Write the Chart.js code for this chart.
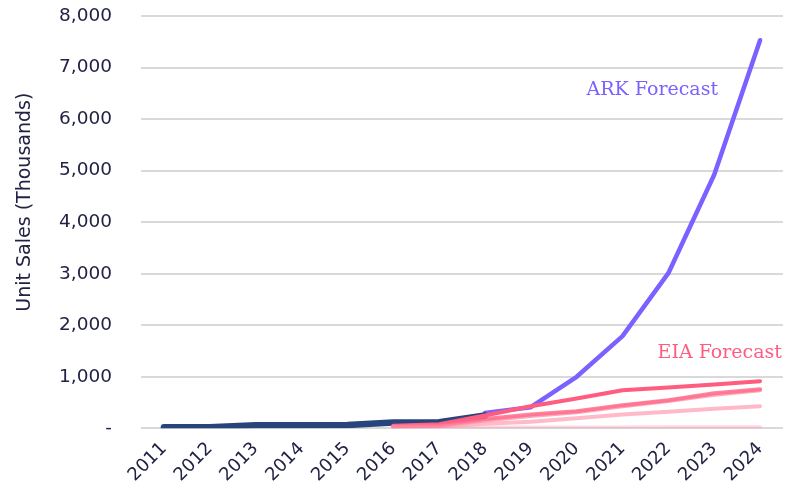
<!DOCTYPE html>
<html>
<head>
<meta charset="utf-8">
<script src="https://cdn.jsdelivr.net/npm/chart.js@4/dist/chart.umd.min.js"></script>
<style>
  html, body { margin: 0; padding: 0; background: #fff; }
  #wrap { width: 802px; height: 493px; }
</style>
</head>
<body>
<div id="wrap"><canvas id="salesChart"></canvas></div>
<script>
'use strict';

// ---- data ----
var years = ['2011', '2012', '2013', '2014', '2015', '2016', '2017',
             '2018', '2019', '2020', '2021', '2022', '2023', '2024'];
var historical = [20, 20, 60, 62, 64, 115, 118, 250, null, null, null, null, null, null];
var arkForecast = [null, null, null, null, null, null, null, 300, 410, 1000, 1790, 3010, 4920, 7530];
var eiaHigh = [null, null, null, null, null, 50, 80, 250, 430, 580, 740, 790, 850, 915];
var eiaMid = [null, null, null, null, null, 40, 60, 180, 270, 330, 450, 545, 680, 760];
var eiaMid2 = [null, null, null, null, null, 35, 50, 150, 240, 310, 430, 530, 650, 740];
var eiaLow = [null, null, null, null, null, 25, 35, 90, 130, 195, 270, 320, 380, 430];
var eiaFlat = [null, null, null, null, null, 10, 12, 15, 16, 17, 18, 19, 20, 20];
var yTicks = [0, 1000, 2000, 3000, 4000, 5000, 6000, 7000, 8000];

var textColor = '#222244';

// forecast labels + y axis title
var annotations = {
    id: 'annotations',
    afterDatasetsDraw: function (chart) {
        var ctx = chart.ctx;
        var x = chart.scales.x, y = chart.scales.y;
        ctx.save();
        ctx.font = '19px "DejaVu Serif"';
        ctx.textBaseline = 'middle';
        ctx.textAlign = 'center';
        ctx.fillStyle = '#7b61ff';
        ctx.fillText('ARK Forecast', x.getPixelForValue(10.65), y.getPixelForValue(6560));
        ctx.fillStyle = '#ff5c80';
        ctx.fillText('EIA Forecast', x.getPixelForValue(12.12), y.getPixelForValue(1460));

        ctx.translate(25, (chart.chartArea.top + chart.chartArea.bottom) / 2 - 20);
        ctx.rotate(-Math.PI / 2);
        ctx.font = '19px "DejaVu Sans"';
        ctx.fillStyle = textColor;
        ctx.fillText('Unit Sales (Thousands)', 0, 0);
        ctx.restore();
    }
};

function line(data, color, width) {
    return {
        data: data,
        borderColor: color,
        backgroundColor: color,
        borderWidth: width,
        pointRadius: 0,
        tension: 0,
        fill: false,
        borderCapStyle: 'round',
        borderJoinStyle: 'round'
    };
}

var salesChart = new Chart(document.getElementById('salesChart'), {
    type: 'line',
    data: {
        labels: years,
        datasets: [
            line(eiaFlat, 'rgba(255, 140, 165, 0.35)', 4),
            line(eiaLow, 'rgba(255, 140, 165, 0.6)', 4),
            line(eiaMid2, 'rgba(255, 110, 140, 0.6)', 4),
            line(eiaMid, 'rgba(255, 100, 135, 0.8)', 4),
            line(eiaHigh, '#ff5c80', 4),
            line(historical, '#27457a', 6.5),
            line(arkForecast, '#7b61ff', 4.5)
        ]
    },
    options: {
        responsive: true,
        maintainAspectRatio: false,
        animation: false,
        layout: { padding: { top: 16, right: 19, left: 59, bottom: 5 } },
        plugins: {
            legend: { display: false },
            tooltip: { enabled: false }
        },
        scales: {
            x: {
                offset: true,
                grid: { display: false },
                border: { display: false },
                ticks: {
                    color: textColor,
                    font: { family: 'DejaVu Sans', size: 18 },
                    maxRotation: 45,
                    minRotation: 45,
                    padding: 2
                }
            },
            y: {
                min: 0,
                max: 8000,
                afterBuildTicks: function (axis) {
                    axis.ticks = yTicks.map(function (v) { return { value: v }; });
                },
                afterFit: function (axis) {
                    axis.width = 82;
                    axis.paddingTop = 0;
                    axis.paddingBottom = 0;
                },
                grid: { color: '#d9d9d9', lineWidth: 2, drawTicks: false },
                border: { display: false },
                ticks: {
                    color: textColor,
                    font: { family: 'DejaVu Sans', size: 18.5 },
                    padding: 29,
                    callback: function (v) {
                        return v === 0 ? '-' : v.toLocaleString('en-US');
                    }
                }
            }
        }
    },
    plugins: [annotations]
});
</script>
</body>
</html>
